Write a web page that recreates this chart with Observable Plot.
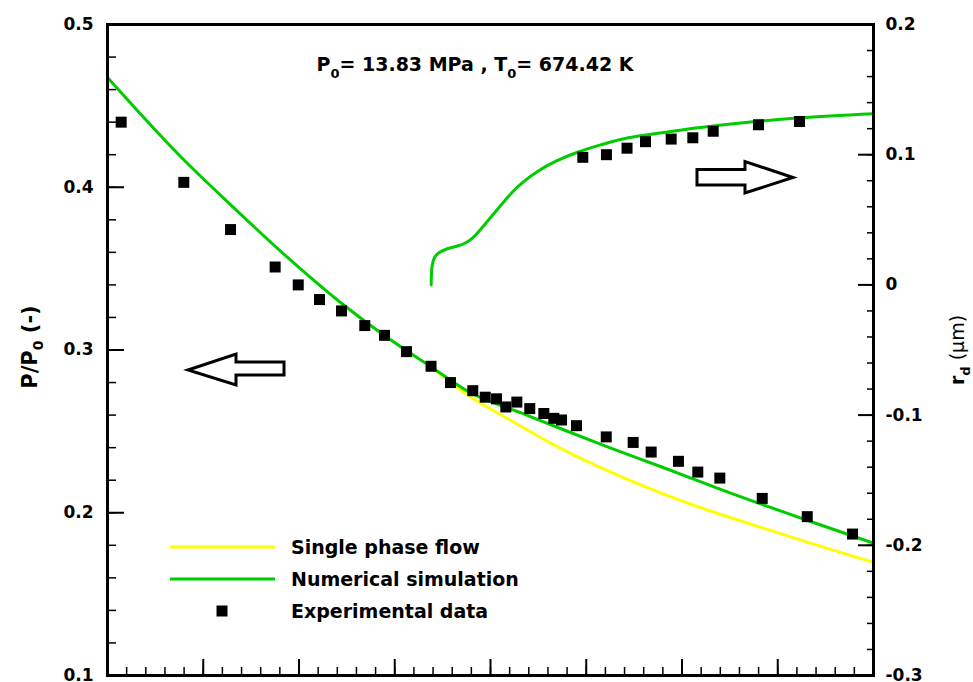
<!DOCTYPE html>
<html>
<head>
<meta charset="utf-8">
<script src="https://cdn.jsdelivr.net/npm/d3@7"></script>
<script src="https://cdn.jsdelivr.net/npm/@observablehq/plot@0.6"></script>
<style>
  html, body { margin: 0; padding: 0; background: #fff; }
  #chart svg { display: block; }
</style>
</head>
<body>
<div id="chart"></div>
<script>
// ---- Pressure ratio P/P0 along the nozzle (left axis) ----
const expX = [0.143, 0.797, 1.285, 1.751, 1.992, 2.214, 2.444, 2.687, 2.893, 3.123, 3.379,
              3.582, 3.815, 3.945, 4.063, 4.160, 4.275, 4.410, 4.557, 4.661, 4.742, 4.898,
              5.209, 5.490, 5.678, 5.963, 6.165, 6.395, 6.838, 7.308, 7.781];
const expP = [0.440, 0.403, 0.374, 0.351, 0.340, 0.331, 0.324, 0.315, 0.309, 0.299, 0.290,
              0.280, 0.275, 0.271, 0.270, 0.265, 0.268, 0.264, 0.261, 0.258, 0.257, 0.2535,
              0.2466, 0.2432, 0.2373, 0.2316, 0.2250, 0.2213, 0.2088, 0.1976, 0.1869];

const simX = [0, 0.7624, 1.3159, 1.8799, 2.4334, 2.9034, 3.3734, 3.7911, 4.3133, 4.7624,
              5.2219, 5.7755, 6.4021, 7.3734, 8.0];
const simP = [0.4674, 0.4189, 0.3876, 0.3569, 0.3292, 0.3084, 0.2899, 0.2737, 0.2615, 0.2510,
              0.2405, 0.2284, 0.2144, 0.1940, 0.1813];

const singleX = [3.3734, 3.7211, 4.2089, 4.7311, 5.3577, 5.9843, 7.0287, 8.0];
const singleP = [0.2899, 0.2741, 0.2568, 0.2396, 0.2224, 0.2076, 0.1872, 0.1695];

// ---- Droplet radius r_d in micrometres (right axis) ----
const rdSimX = [3.3807, 3.3828, 3.3911, 3.4151, 3.4569, 3.5300, 3.6345, 3.7211, 3.8120, 3.8956,
                3.9791, 4.0627, 4.1462, 4.2298, 4.3342, 4.4909, 4.6893, 4.9086, 5.1488, 5.3577,
                5.5666, 5.8799, 6.1932, 6.7154, 7.2376, 8.0];
const rdSim  = [0, 0.0072, 0.0149, 0.0210, 0.0245, 0.0272, 0.0295, 0.0316, 0.0360, 0.0425,
                0.0498, 0.0571, 0.0644, 0.0714, 0.0786, 0.0871, 0.0952, 0.1019, 0.1075, 0.1117,
                0.1145, 0.1178, 0.1209, 0.1251, 0.1283, 0.1314];

const rdExpX = [4.964, 5.211, 5.426, 5.619, 5.887, 6.113, 6.326, 6.799, 7.227];
const rdExp  = [0.098, 0.100, 0.105, 0.110, 0.112, 0.113, 0.118, 0.123, 0.1255];

// ---- Axis ticks ----
const xMajor = [0, 1, 2, 3, 4, 5, 6, 7, 8];
const xMinor = d3.range(0, 8.001, 0.2);
const leftMajor = [0.1, 0.2, 0.3, 0.4, 0.5];
const leftMinor = d3.range(0.1, 0.5001, 0.02);
const rightMajor = [-0.3, -0.2, -0.1, 0, 0.1, 0.2];
const rightMinor = d3.range(-0.3, 0.2001, 0.02);

const titleParts = ["P", "0", "= 13.83 MPa , T", "0", "= 674.42 K"];
const legendLabels = ["Single phase flow", "Numerical simulation", "Experimental data"];

const GREEN = "#00cc00";
const YELLOW = "#ffff00";
const FONT = "'DejaVu Sans', sans-serif";

// The right axis (r_d from -0.3 to 0.2) shares the vertical extent of the left axis (0.1 to 0.5)
const rdToP = r => 0.5 - (0.2 - r) * 0.8;
const pToRd = p => 0.2 - (0.5 - p) / 0.8;
const fmtRd = p => { const r = Math.round(pToRd(p) * 10) / 10; return r === 0 ? "0" : String(r); };

const zip = (xs, ys) => xs.map((x, i) => ({x, y: ys[i]}));
const expData = zip(expX, expP);
const simData = zip(simX, simP);
const singleData = zip(singleX, singleP);
const rdSimData = rdSimX.map((x, i) => ({x, y: rdToP(rdSim[i])}));
const rdExpData = rdExpX.map((x, i) => ({x, y: rdToP(rdExp[i])}));

const noText = () => "";

const plot = Plot.plot({
  width: 973,
  height: 682,
  marginLeft: 107,
  marginRight: 100,
  marginTop: 24,
  marginBottom: 7,
  style: {fontFamily: FONT, fontWeight: "bold", fontSize: "17px", color: "#000", background: "#fff", overflow: "visible"},
  x: {domain: [0, 8]},
  y: {domain: [0.1, 0.5]},
  marks: [
    // inward ticks
    Plot.axisX(xMinor, {anchor: "bottom", tickSize: -8, strokeWidth: 1.5, tickFormat: noText, label: null}),
    Plot.axisX(xMajor, {anchor: "bottom", tickSize: -16, strokeWidth: 2, tickFormat: noText, label: null}),
    Plot.axisY(leftMinor, {anchor: "left", tickSize: -9, strokeWidth: 1.5, tickFormat: noText, label: null}),
    Plot.axisY(leftMajor, {anchor: "left", tickSize: -17, strokeWidth: 2, tickFormat: noText, label: null}),
    Plot.axisY(rightMinor.map(rdToP), {anchor: "right", tickSize: -7, strokeWidth: 1.5, tickFormat: noText, label: null}),
    Plot.axisY(rightMajor.map(rdToP), {anchor: "right", tickSize: -16, strokeWidth: 2, tickFormat: noText, label: null}),
    // tick labels
    Plot.axisY(leftMajor, {anchor: "left", tickSize: 0, tickPadding: 14, fontSize: 17, fontWeight: "bold",
                           tickFormat: d3.format(".1f"), label: null}),
    Plot.axisY(rightMajor.map(rdToP), {anchor: "right", tickSize: 0, tickPadding: 12, fontSize: 17, fontWeight: "bold",
                                       tickFormat: fmtRd, label: null}),
    // curves and data
    Plot.line(singleData, {x: "x", y: "y", stroke: YELLOW, strokeWidth: 3, curve: "monotone-x"}),
    Plot.line(simData, {x: "x", y: "y", stroke: GREEN, strokeWidth: 3, curve: "monotone-x"}),
    Plot.line(rdSimData, {x: "x", y: "y", stroke: GREEN, strokeWidth: 3, curve: "catmull-rom"}),
    Plot.dot(expData, {x: "x", y: "y", symbol: "square", r: 6.2, fill: "#000"}),
    Plot.dot(rdExpData, {x: "x", y: "y", symbol: "square", r: 6.2, fill: "#000"}),
    Plot.frame({stroke: "#000", strokeWidth: 3})
  ]
});

document.getElementById("chart").appendChild(plot);

const svg = d3.select(plot);

// Tick labels: bold 17px
svg.selectAll("text")
  .style("font-family", FONT)
  .style("font-size", "17px")
  .style("font-weight", "bold");

const ann = svg.append("g")
  .attr("font-family", FONT)
  .attr("font-weight", "bold")
  .attr("text-anchor", "start")
  .attr("fill", "#000");

// Title with subscripts
const title = ann.append("text")
  .attr("x", 475).attr("y", 71)
  .attr("text-anchor", "middle")
  .attr("font-size", 19);
titleParts.forEach((t, i) => {
  const sub = i % 2 === 1;
  title.append("tspan")
    .attr("font-size", sub ? 13 : 19)
    .attr("dy", sub ? 7 : (i > 0 ? -7 : 0))
    .text(t);
});

// Left axis title: P/P0 (-)
const leftTitle = ann.append("text")
  .attr("transform", "translate(37,347) rotate(-90)")
  .attr("text-anchor", "middle")
  .attr("font-size", 21);
leftTitle.append("tspan").text("P/P");
leftTitle.append("tspan").attr("font-size", 14).attr("dy", 6).text("0");
leftTitle.append("tspan").attr("dy", -6).text(" (-)");

// Right axis title: r_d (μm)
const rightTitle = ann.append("text")
  .attr("transform", "translate(964,350) rotate(-90)")
  .attr("text-anchor", "middle")
  .attr("font-size", 19);
rightTitle.append("tspan").text("r");
rightTitle.append("tspan").attr("font-size", 13).attr("dy", 6).text("d");
rightTitle.append("tspan").attr("dy", -6).attr("font-weight", "normal").text(" (\u03bcm)");

// Direction arrows: left one points to the pressure axis, right one to the r_d axis
const arrowStyle = g => g.attr("fill", "#fff").attr("stroke", "#000").attr("stroke-width", 3).attr("stroke-linejoin", "miter");
ann.append("path")
  .attr("d", "M188,370 L236,354 L236,362 L284,362 L284,375 L236,375 L236,385 Z")
  .call(arrowStyle);
ann.append("path")
  .attr("d", "M697,169.5 L745,169.5 L745,161.5 L793,177.5 L745,193 L745,185 L697,185 Z")
  .call(arrowStyle);

// Legend
const legend = ann.append("g").attr("font-size", 19).attr("text-anchor", "start");
const rows = [547, 579, 611];
legend.append("line").attr("x1", 170).attr("x2", 275).attr("y1", rows[0]).attr("y2", rows[0])
  .attr("stroke", YELLOW).attr("stroke-width", 3);
legend.append("line").attr("x1", 170).attr("x2", 275).attr("y1", rows[1]).attr("y2", rows[1])
  .attr("stroke", GREEN).attr("stroke-width", 3);
legend.append("rect").attr("x", 216.5).attr("y", rows[2] - 5.5).attr("width", 11).attr("height", 11).attr("fill", "#000");
legendLabels.forEach((label, i) => {
  legend.append("text").attr("x", 291).attr("y", rows[i]).attr("dy", "0.35em").text(label);
});
</script>
</body>
</html>
